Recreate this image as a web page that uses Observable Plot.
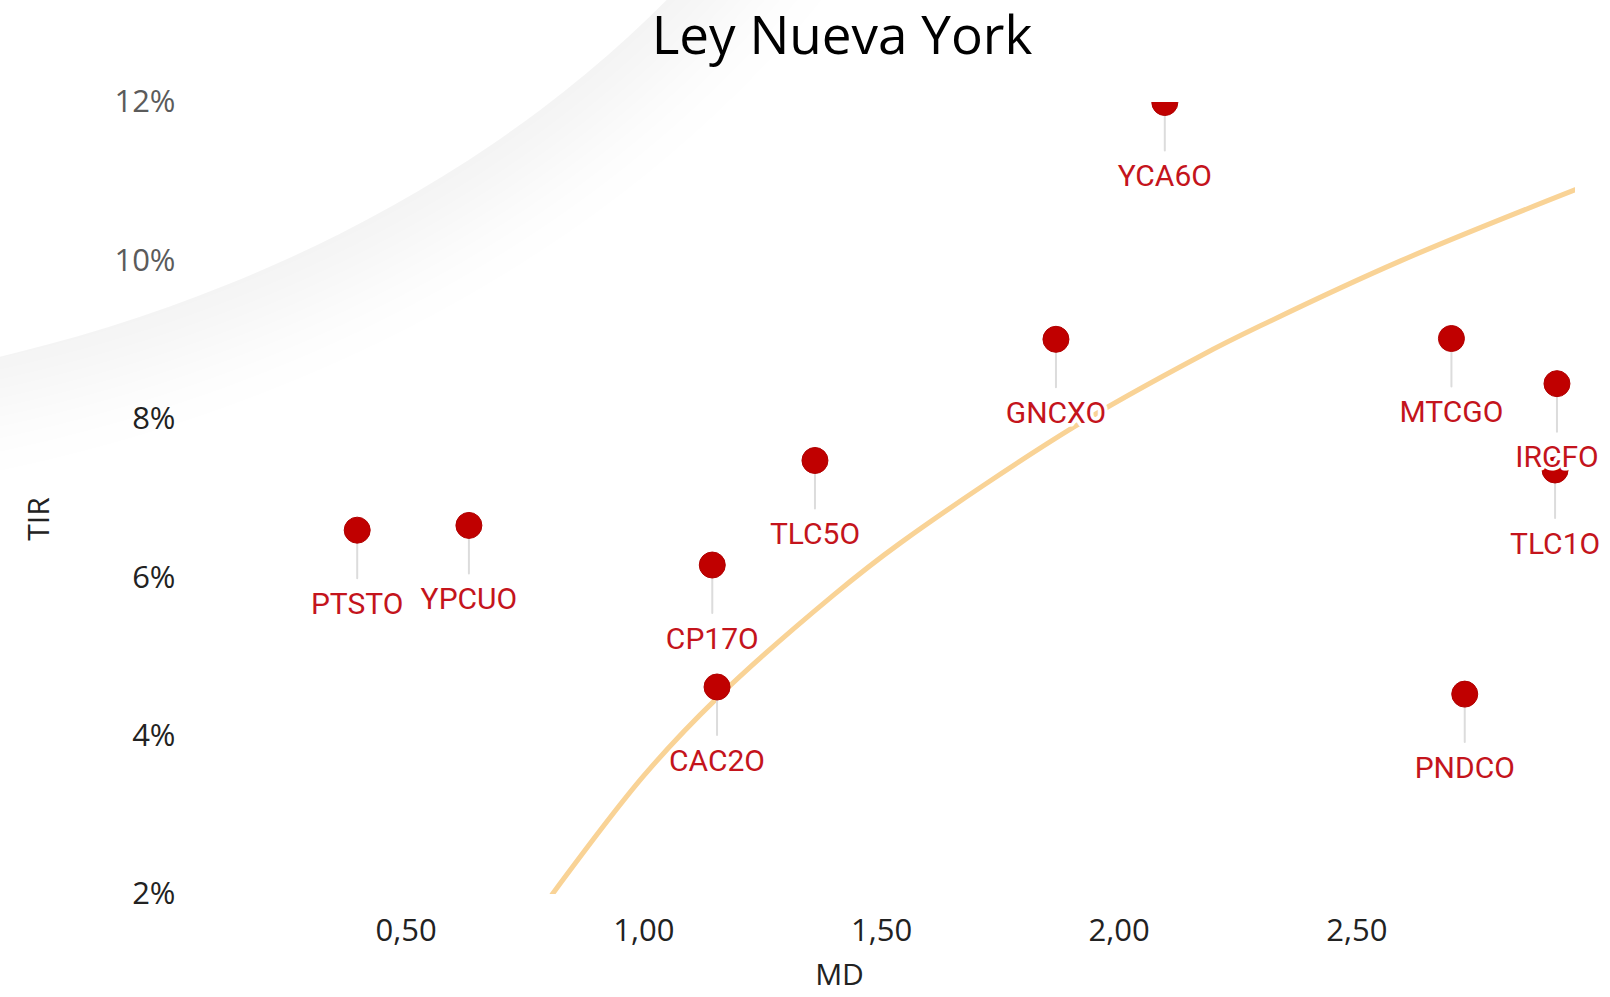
<!DOCTYPE html>
<html>
<head>
<meta charset="utf-8">
<script src="https://cdn.jsdelivr.net/npm/d3@7"></script>
<script src="https://cdn.jsdelivr.net/npm/@observablehq/plot@0.6"></script>
<style>
  html, body { margin: 0; padding: 0; background: #fff; overflow: hidden; }
  #wrap { position: relative; width: 1610px; height: 997px; }
  #title { height: 72px; line-height: 68px; width: 1610px; box-sizing: border-box; padding-left: 74px;
           text-align: center; font-family: "Open Sans", sans-serif; font-size: 53px; color: #000; }
  #ytitle { position: absolute; left: 38px; top: 519px; transform: translate(-50%, -50%) rotate(-90deg);
            font-family: "Open Sans", sans-serif; font-size: 30px; color: #222; line-height: 1; white-space: nowrap; }
  #swoosh { position: absolute; left: -1731px; top: -1603px; width: 2662px; height: 2006px; border-radius: 50%;
            background: rgba(255,255,255,0.26); box-shadow: 30px 35px 100px rgba(0,0,0,0.055); pointer-events: none; }
</style>
</head>
<body>
<div id="wrap">
  <div id="title">Ley Nueva York</div>
  <div id="chart"></div>
  <div id="ytitle"></div>
  <div id="swoosh"></div>
</div>
<script>
// Bonds (Ley Nueva York): modified duration (MD) and yield (TIR, %)
const names = ["PTSTO", "YPCUO", "CP17O", "CAC2O", "TLC5O", "GNCXO", "YCA6O", "MTCGO", "IRCFO", "TLC1O", "PNDCO"];
const md    = [0.397, 0.632, 1.144, 1.154, 1.360, 1.867, 2.096, 2.699, 2.921, 2.917, 2.727];
const tir   = [6.60, 6.66, 6.16, 4.62, 7.48, 9.01, 12.0, 9.02, 8.45, 7.36, 4.53];

// Trend curve, points
const curveMD  = [0.807, 1.000, 1.154, 1.399, 1.540, 1.904, 2.171, 2.297, 2.592, 2.960];
const curveTIR = [2.00, 3.50, 4.48, 5.78, 6.44, 7.90, 8.80, 9.18, 10.00, 10.90];

// Axis ticks and titles
const xTicks = [0.5, 1.0, 1.5, 2.0, 2.5];
const xTickLabels = ["0,50", "1,00", "1,50", "2,00", "2,50"];
const yTicks = [2, 4, 6, 8, 10, 12];
const yTickLabels = ["2%", "4%", "6%", "8%", "10%", "12%"];
const xTitle = ["MD"];
const yTitle = "TIR";

const bonds = names.map((n, i) => ({name: n, md: md[i], tir: tir[i]}));
const curve = curveMD.map((x, i) => ({md: x, tir: curveTIR[i]}));

const RED = "#C00000";
const stem = {draw(ctx, l) { ctx.moveTo(0, 0); ctx.lineTo(0, -l); }};

const chart = Plot.plot({
  width: 1610,
  height: 925,
  marginTop: 30,
  marginBottom: 103,
  marginLeft: 187,
  marginRight: 35,
  style: {fontFamily: "Open Sans, sans-serif", fontSize: "31px", color: "#222", background: "transparent"},
  x: {domain: [0.04, 2.96]},
  y: {domain: [2, 12]},
  marks: [
    Plot.axisX({ticks: xTicks, tickFormat: d => xTickLabels[xTicks.indexOf(d)], tickSize: 0, tickPadding: 24, label: null}),
    Plot.axisY({ticks: yTicks, tickFormat: d => yTickLabels[yTicks.indexOf(d)], tickSize: 0, tickPadding: 12, label: null}),
    Plot.text(xTitle, {frameAnchor: "bottom", dx: -42, dy: 81, lineAnchor: "middle", fontSize: 30, fill: "#222"}),
    Plot.line(curve, {x: "md", y: "tir", stroke: "#F9D396", strokeWidth: 5, curve: "catmull-rom", clip: true}),
    Plot.vector(bonds, {x: "md", y: "tir", length: 48, rotate: 180, anchor: "start", shape: stem,
                        stroke: "#dcdcdc", strokeWidth: 2, clip: true}),
    Plot.dot(bonds, {x: "md", y: "tir", r: 13, fill: RED, stroke: "#b00000", strokeWidth: 1, clip: true}),
    Plot.text(bonds, {x: "md", y: "tir", text: "name", dy: 74, fill: "#C4141C", stroke: "white", strokeWidth: 7,
                      fontFamily: "Roboto, sans-serif", fontSize: 30, lineAnchor: "middle"})
  ]
});
document.getElementById("chart").appendChild(chart);
document.getElementById("ytitle").textContent = yTitle;
</script>
</body>
</html>
